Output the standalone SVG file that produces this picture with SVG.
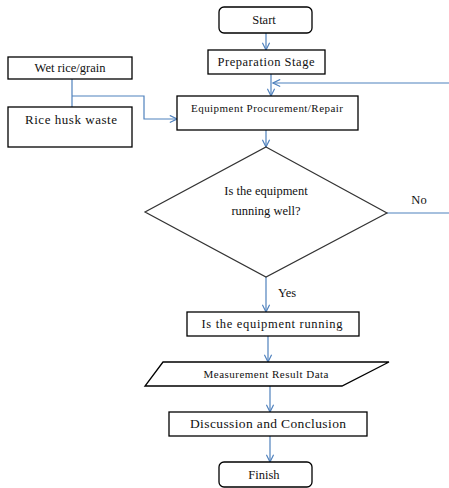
<svg xmlns="http://www.w3.org/2000/svg" width="449" height="488" viewBox="0 0 449 488">
<defs>
<marker id="arr" viewBox="0 0 10 10" refX="9" refY="5" markerWidth="9" markerHeight="9" markerUnits="userSpaceOnUse" orient="auto">
<path d="M1,1 L9,5 L1,9" fill="none" stroke="#4F81BD" stroke-width="1.3"/>
</marker>
</defs>
<style>
.box{fill:#fff;stroke:#000;stroke-width:1.3}
.dia{fill:#fff;stroke:#333;stroke-width:1.2}
.t{fill:#111;text-anchor:middle}
.c{fill:none;stroke:#4F81BD;stroke-width:1.2}
.ca{fill:none;stroke:#4F81BD;stroke-width:1.2;marker-end:url(#arr)}
</style>
<rect width="449" height="488" fill="#fff"/>
<g font-family="Liberation Serif, DejaVu Serif, serif">
<g id="connectors">
<line class="ca" x1="266" y1="33" x2="266" y2="50"/>
<line class="ca" x1="271" y1="74" x2="271" y2="96"/>
<line class="ca" x1="449" y1="83" x2="273" y2="83"/>
<line class="ca" x1="266" y1="130" x2="266" y2="147"/>
<polyline class="c" points="72,79 72,107"/>
<polyline class="ca" points="72,96 144,96 144,119 177,119"/>
<line class="c" x1="387" y1="213" x2="449" y2="213"/>
<line class="ca" x1="266" y1="277" x2="266" y2="312"/>
<line class="ca" x1="268" y1="336" x2="268" y2="362"/>
<line class="ca" x1="270" y1="386" x2="270" y2="412"/>
<line class="ca" x1="270" y1="436" x2="270" y2="462"/>
<text class="t" x="419" y="204" font-size="12.5">No</text>
<text class="t" x="287" y="297" font-size="12.5">Yes</text>
</g>
<g id="start">
<rect class="box" x="219" y="7" width="93" height="26" rx="5"/>
<text class="t" x="264" y="24" font-size="12.5">Start</text>
</g>
<g id="prep">
<rect class="box" x="208" y="50" width="117" height="24"/>
<text class="t" x="266" y="66" font-size="12.5" textLength="97">Preparation Stage</text>
</g>
<g id="wet">
<rect class="box" x="8" y="57" width="124" height="22"/>
<text class="t" x="70" y="72" font-size="12.5">Wet rice/grain</text>
</g>
<g id="husk">
<rect class="box" x="8" y="107" width="124" height="40"/>
<text class="t" x="71" y="124" font-size="13" textLength="92">Rice husk waste</text>
</g>
<g id="equip">
<rect class="box" x="177" y="96" width="181" height="34"/>
<text class="t" x="267" y="112" font-size="11" textLength="152">Equipment Procurement/Repair</text>
</g>
<g id="decision">
<polygon class="dia" points="266,147 387,213 266,277 145,212"/>
<text class="t" x="266" y="195" font-size="12.5">Is the equipment</text>
<text class="t" x="266" y="215" font-size="12.5">running well?</text>
</g>
<g id="running">
<rect class="box" x="187" y="312" width="172" height="24"/>
<text class="t" x="272" y="328" font-size="12.5" textLength="141">Is the equipment running</text>
</g>
<g id="data">
<polygon class="box" points="163,362 389,362 342,386 145,386"/>
<text class="t" x="266" y="378" font-size="11" textLength="125">Measurement Result Data</text>
</g>
<g id="discussion">
<rect class="box" x="169" y="412" width="198" height="24"/>
<text class="t" x="268" y="428" font-size="13.5" textLength="156">Discussion and Conclusion</text>
</g>
<g id="finish">
<rect class="box" x="219" y="462" width="93" height="25" rx="5"/>
<text class="t" x="264" y="479" font-size="12.5">Finish</text>
</g>
</g>
</svg>
